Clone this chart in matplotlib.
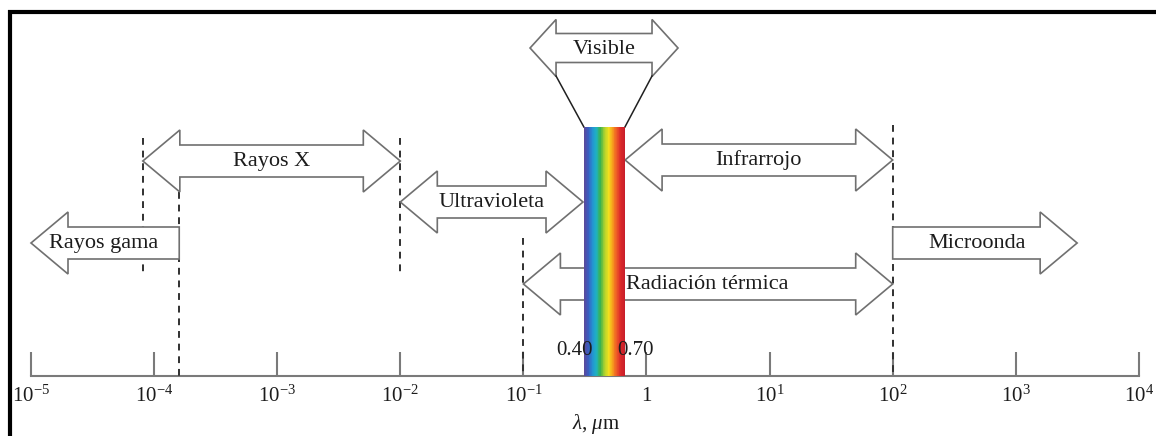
import numpy as np
import matplotlib.pyplot as plt
from matplotlib.patches import Polygon
from matplotlib.colors import LinearSegmentedColormap

plt.rcParams['font.family'] = 'Liberation Serif'
plt.rcParams['mathtext.fontset'] = 'custom'
plt.rcParams['mathtext.rm'] = 'Liberation Serif'
plt.rcParams['mathtext.it'] = 'Liberation Serif:italic'

# axis decades (log10 of wavelength in micrometres)
decades = [-5, -4, -3, -2, -1, 0, 1, 2, 3, 4]
tick_labels = [r'$10^{-5}$', r'$10^{-4}$', r'$10^{-3}$', r'$10^{-2}$', r'$10^{-1}$',
               '1', r'$10^{1}$', r'$10^{2}$', r'$10^{3}$', r'$10^{4}$']

# spectral bands: name, lower and upper wavelength (um), which ends have heads
bands = ['Rayos gama', 'Rayos X', 'Ultravioleta', 'Infrarrojo', 'Radiación térmica', 'Microonda']
band_lo = [1.0e-5, 8.1e-5, 1.0e-2, 0.67, 1.0e-1, 1.0e2]
band_hi = [1.6e-4, 1.0e-2, 0.305, 1.0e2, 1.0e2, 3.15e3]
band_heads = [(True, False), (True, True), (True, True), (True, True), (True, True), (False, True)]
band_y = [243, 161, 202, 160, 284, 243]
# where the name sits (log10 um)
label_pos = [-4.407, -3.05, -1.0, 0.49, 0.49, 2.685]

# dashed limits
limit_x = [8.1e-5, 1.6e-4, 1.0e-2, 1.0e-1, 1.0e2]
limit_top = [138, 192, 138, 238, 125]
limit_bottom = [273, 376, 273, 376, 376]

# visible spectrum strip
vis_lo, vis_hi = 0.31, 0.668
vis_labels = ['0.40', '0.70']
rainbow = ['#5a4a9c', '#3a5cc0', '#2492d2', '#1eb2c4', '#3cb24c', '#a8d030',
           '#f2e21e', '#f7a21c', '#ee5a26', '#dc2a2a', '#c81e2a']

PX_DEC = 123.1
EDGE = '#707070'
TXT = '#1c1c1c'


def arrow_poly(lo, hi, yc, shaft=16, head=31, hlen=37, left=True, right=True):
    a, b = np.log10(lo), np.log10(hi)
    d = hlen / PX_DEC
    if left:
        pts = [(a, yc), (a + d, yc - head), (a + d, yc - shaft)]
    else:
        pts = [(a, yc - shaft)]
    if right:
        pts += [(b - d, yc - shaft), (b - d, yc - head), (b, yc), (b - d, yc + head), (b - d, yc + shaft)]
    else:
        pts += [(b, yc - shaft), (b, yc + shaft)]
    if left:
        pts += [(a + d, yc + shaft), (a + d, yc + head)]
    else:
        pts += [(a, yc + shaft)]
    pts = np.array(pts, dtype=float)
    pts[:, 0] = 10 ** pts[:, 0]
    return Polygon(pts, closed=True, facecolor='white', edgecolor=EDGE, lw=1.2, zorder=2)


fig = plt.figure(figsize=(11.56, 4.36), dpi=100)
ax = fig.add_axes([0, 0, 1, 1])
ax.set_xscale('log')
ax.set_xlim(10 ** (-5 - 31 / PX_DEC), 10 ** (-5 + 1125 / PX_DEC))
ax.set_ylim(436, 0)
ax.axis('off')

# wavelength axis
ax.plot([10.0 ** decades[0], 10.0 ** decades[-1]], [376, 376], color='#7a7a7a', lw=1.5, zorder=1)
ax.vlines([10.0 ** d for d in decades], 352, 376, color='#7a7a7a', lw=1.5, zorder=1)
for d, lab in zip(decades, tick_labels):
    ax.text(10.0 ** d, 396, lab, ha='center', va='center', fontsize=15, color=TXT)
ax.text(10 ** -0.41, 424, r'$\lambda$, $\mu$m', ha='center', va='center', fontsize=15, color=TXT)

# dashed region limits
for x, y0, y1 in zip(limit_x, limit_top, limit_bottom):
    ax.plot([x, x], [y0, y1], color='#303030', lw=1.4, ls=(0, (3.5, 3)), zorder=1)

# band arrows
for name, lo, hi, (l, r), y, lp in zip(bands, band_lo, band_hi, band_heads, band_y, label_pos):
    ax.add_patch(arrow_poly(lo, hi, y, left=l, right=r))
    if name in ('Rayos X', 'Ultravioleta', 'Infrarrojo'):
        lp = (np.log10(lo) + np.log10(hi)) / 2
    ax.text(10 ** lp, y, name, ha='center', va='center', fontsize=16, color=TXT, zorder=3)

# rainbow strip
cmap = LinearSegmentedColormap.from_list('vis', rainbow)
xe = np.geomspace(vis_lo, vis_hi, 60)
ax.pcolormesh(xe, [127, 376], np.arange(59).reshape(1, -1), cmap=cmap, shading='flat', zorder=4)
ax.text(10 ** -0.585, 350, vis_labels[0], ha='center', va='center', fontsize=15, color=TXT, zorder=5)
ax.text(10 ** -0.09, 350, vis_labels[1], ha='center', va='center', fontsize=15, color=TXT, zorder=5)

# zoomed visible arrow
v_lo, v_hi = 10 ** -0.946, 10 ** 0.256
ax.add_patch(arrow_poly(v_lo, v_hi, 48, shaft=14.5, head=28.5, hlen=26))
ax.text(10 ** ((np.log10(v_lo) + np.log10(v_hi)) / 2), 49, 'Visible', ha='center', va='center',
        fontsize=16, color=TXT, zorder=3)
ax.plot([vis_lo, 10 ** (np.log10(v_lo) + 26 / PX_DEC)], [127, 76], color='#202020', lw=1.1, zorder=3)
ax.plot([vis_hi, 10 ** (np.log10(v_hi) - 26 / PX_DEC)], [127, 76], color='#202020', lw=1.1, zorder=3)

# frame (only top and left are visible)
fig.add_artist(plt.Line2D([8 / 1156, 1], [1 - 12 / 436, 1 - 12 / 436], color='black', lw=3,
                          solid_capstyle='butt', transform=fig.transFigure))
fig.add_artist(plt.Line2D([9.5 / 1156, 9.5 / 1156], [0, 1 - 10 / 436], color='black', lw=3,
                          solid_capstyle='butt', transform=fig.transFigure))

fig.savefig('out.png', dpi=100)
